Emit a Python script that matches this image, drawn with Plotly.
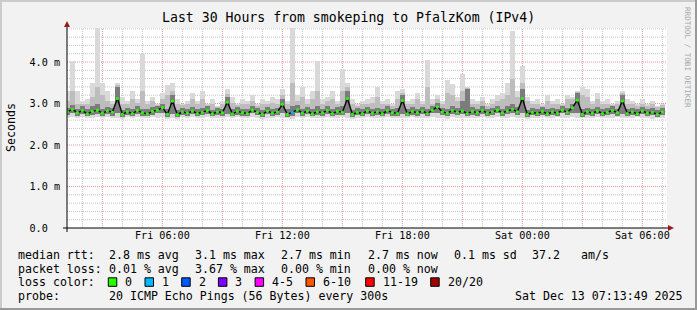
import plotly.graph_objects as go
import pandas as pd

# ---------------- data (milliseconds) ----------------
times = pd.date_range("2025-12-12 01:15", periods=120, freq="15min")

median = [2.80, 2.86, 2.78, 2.83, 2.75, 2.81, 2.84, 2.77, 2.82, 2.79,
          3.12,
          2.74, 2.80, 2.76, 2.83, 2.78, 2.75, 2.81, 2.84, 2.90, 2.74,
          3.06,
          2.73, 2.80, 2.77, 2.82, 2.76, 2.79, 2.83, 2.75, 2.80, 2.78,
          3.03,
          2.75, 2.81, 2.78, 2.76, 2.84, 2.79, 2.74, 2.82, 2.77, 2.80,
          2.98,
          2.74, 2.79, 2.85, 2.77, 2.82, 2.75, 2.80, 2.78, 2.83, 2.76, 2.81, 2.79,
          3.12,
          2.74, 2.79, 2.76, 2.82, 2.77, 2.80, 2.75, 2.83, 2.78, 2.76,
          3.07,
          2.75, 2.81, 2.78, 2.82, 2.76, 2.84,
          2.92, 2.80, 2.77, 2.83, 2.79, 2.82, 2.76, 2.81, 2.78, 2.83, 2.77, 2.80,
          2.84, 2.78, 2.82, 2.86, 2.80,
          3.12,
          2.73, 2.79, 2.76, 2.81, 2.75, 2.80, 2.77, 2.84, 2.79, 2.90,
          3.08,
          2.74, 2.80, 2.77, 2.82, 2.76, 2.79, 2.83, 2.78,
          3.06,
          2.76, 2.80, 2.75, 2.82, 2.77, 2.79, 2.74, 2.80]

loss = [0] * 45 + [1] + [0] * 74

smoke_min = [2.66, 2.68, 2.65, 2.67, 2.64, 2.66, 2.68, 2.65, 2.67, 2.66,
             2.65, 2.63, 2.67, 2.66, 2.68, 2.64, 2.66, 2.67, 2.65, 2.68,
             2.63, 2.66, 2.62, 2.67, 2.65, 2.68, 2.64, 2.66, 2.67, 2.65,
             2.66, 2.64, 2.67, 2.65, 2.68, 2.66, 2.64, 2.67, 2.65, 2.63,
             2.66, 2.65, 2.68, 2.66, 2.64, 2.62, 2.67, 2.65, 2.68, 2.64,
             2.66, 2.65, 2.67, 2.64, 2.66, 2.68, 2.65, 2.63, 2.66, 2.65,
             2.67, 2.64, 2.66, 2.65, 2.68, 2.66, 2.64, 2.66, 2.64, 2.67,
             2.65, 2.66, 2.64, 2.68, 2.66, 2.65, 2.63, 2.67, 2.65, 2.66,
             2.64, 2.66, 2.65, 2.67, 2.64, 2.66, 2.68, 2.65, 2.66, 2.67,
             2.65, 2.66, 2.63, 2.65, 2.64, 2.67, 2.65, 2.66, 2.68, 2.65,
             2.66, 2.67, 2.65, 2.64, 2.66, 2.65, 2.67, 2.64, 2.66, 2.65,
             2.67, 2.65, 2.66, 2.64, 2.67, 2.65, 2.66, 2.63, 2.65, 2.66]

smoke_lo = [2.72, 2.76, 2.71, 2.74, 2.69, 2.73, 2.75, 2.70, 2.74, 2.71,
            2.76,
            2.68, 2.72, 2.69, 2.75, 2.71, 2.69, 2.73, 2.76, 2.78, 2.68,
            2.74,
            2.67, 2.72, 2.70, 2.74, 2.70, 2.72, 2.75, 2.69, 2.73, 2.71,
            2.75,
            2.69, 2.73, 2.71, 2.70, 2.76, 2.72, 2.68, 2.74, 2.70, 2.73,
            2.76,
            2.68, 2.71, 2.76, 2.70, 2.74, 2.69, 2.73, 2.71, 2.75, 2.70, 2.73, 2.72,
            2.77,
            2.68, 2.72, 2.70, 2.74, 2.70, 2.73, 2.69, 2.75, 2.71, 2.70,
            2.75,
            2.69, 2.73, 2.71, 2.74, 2.70, 2.76,
            2.78, 2.73, 2.70, 2.75, 2.72, 2.74, 2.70, 2.73, 2.71, 2.75, 2.70, 2.73,
            2.76, 2.71, 2.74, 2.77, 2.73,
            2.77,
            2.67, 2.72, 2.70, 2.73, 2.69, 2.73, 2.70, 2.76, 2.72, 2.78,
            2.76,
            2.68, 2.73, 2.70, 2.74, 2.70, 2.72, 2.75, 2.71,
            2.75,
            2.70, 2.73, 2.69, 2.74, 2.71, 2.72, 2.68, 2.73]

dark_hi = [2.90, 2.96, 2.88, 2.93, 2.86, 2.95, 2.98, 2.88, 2.92, 2.89,
           3.40,
           2.85, 2.90, 2.87, 2.93, 2.88, 2.86, 2.91, 2.94, 3.00, 2.86,
           3.20,
           2.84, 2.90, 2.87, 2.92, 2.86, 2.89, 2.93, 2.85, 2.90, 2.88,
           3.15,
           2.86, 2.91, 2.88, 2.86, 2.94, 2.89, 2.85, 2.92, 2.87, 2.90,
           3.10,
           2.86, 2.95, 2.96, 2.88, 2.92, 2.87, 2.95, 2.88, 2.93, 2.87, 2.91, 2.95,
           3.30,
           2.85, 2.89, 2.86, 2.92, 2.87, 2.90, 2.86, 2.93, 2.88, 2.90,
           3.20,
           2.86, 2.91, 2.88, 2.92, 2.86, 2.94,
           3.02, 2.90, 2.88, 2.95, 2.89, 3.05, 3.35, 2.91, 2.88, 2.93, 2.87, 2.90,
           2.94, 2.88, 2.93, 2.98, 2.92,
           3.35,
           2.85, 2.89, 2.86, 2.91, 2.86, 2.90, 2.87, 2.94, 2.89, 3.00,
           3.25,
           2.86, 2.90, 2.87, 2.92, 2.86, 2.89, 2.93, 2.88,
           3.20,
           2.87, 2.90, 2.86, 2.92, 2.87, 2.89, 2.85, 2.90]

mid_hi = [3.05, 3.30, 3.00, 2.98, 3.00, 3.15, 3.40, 3.20, 3.05, 2.98,
          3.45,
          3.00, 2.98, 3.10, 3.02, 3.30, 2.98, 3.05, 2.96, 3.10, 3.20,
          3.30,
          3.00, 2.96, 2.98, 3.10, 2.98, 3.10, 2.96, 3.00, 2.92, 2.98,
          3.22,
          3.02, 2.96, 3.00, 2.98, 3.05, 2.95, 3.00, 2.98, 3.02, 3.00,
          3.20,
          2.98, 3.50, 3.05, 3.15, 3.00, 3.10, 3.30, 3.00, 3.05, 3.10, 2.98, 3.30,
          3.40,
          3.00, 2.95, 2.98, 3.00, 3.02, 3.15, 2.98, 3.00, 2.95, 3.10,
          3.25,
          2.98, 3.00, 3.10, 2.98, 3.40, 3.00,
          3.10, 2.98, 3.25, 3.20, 3.05, 3.30, 3.38, 3.00, 2.98, 3.05, 2.95, 3.00,
          3.05, 3.10, 3.20, 3.60, 3.15,
          3.50,
          3.05, 2.98, 3.00, 2.95, 3.05, 2.98, 3.00, 2.96, 3.10, 3.10,
          3.28,
          3.20, 3.15, 2.98, 3.10, 2.98, 3.00, 2.96, 2.98,
          3.25,
          3.00, 2.98, 2.95, 3.00, 2.95, 2.98, 2.92, 2.96]

smoke_max = [3.30, 4.03, 3.30, 3.05, 3.10, 3.50, 4.84, 3.50, 3.30, 3.05,
             3.50, 3.15, 3.05, 3.30, 3.10, 4.19, 3.05, 3.15, 3.00, 3.25,
             3.45, 3.50, 3.10, 3.00, 3.05, 3.25, 3.05, 3.30, 3.00, 3.10,
             2.95, 3.05, 3.35, 3.15, 3.00, 3.10, 3.05, 3.20, 3.00, 3.10,
             3.05, 3.15, 3.10, 3.36, 3.05, 4.84, 3.20, 3.40, 3.10, 3.30,
             4.03, 3.10, 3.15, 3.30, 3.05, 3.82, 3.50, 3.10, 3.00, 3.05,
             3.10, 3.15, 3.40, 3.05, 3.10, 3.00, 3.30, 3.35, 3.05, 3.10,
             3.25, 3.05, 4.04, 3.10, 3.20, 3.05, 3.56, 3.47, 3.15, 3.70,
             3.40, 3.10, 3.05, 3.15, 3.00, 3.10, 3.20, 3.25, 3.50, 4.75,
             3.30, 3.90, 3.15, 3.05, 3.10, 3.00, 3.20, 3.05, 3.10, 3.00,
             3.20, 3.15, 3.30, 3.40, 3.35, 3.05, 3.25, 3.05, 3.10, 3.00,
             3.05, 3.30, 3.10, 3.05, 3.00, 3.10, 3.00, 3.05, 2.95, 3.00]

loss_labels = ["0", "1", "2", "3", "4-5", "6-10", "11-19", "20/20"]
loss_colors = ["#26ff00", "#00b8ff", "#0059ff", "#7e00ff",
               "#ff00ff", "#ff5500", "#ff0000", "#a10000"]

y_tickvals = [0, 1, 2, 3, 4]
y_ticktext = ["0.0\u00a0\u00a0", "1.0 m", "2.0 m", "3.0 m", "4.0 m"]
x_tickvals = ["2025-12-12 06:00", "2025-12-12 12:00", "2025-12-12 18:00",
              "2025-12-13 00:00", "2025-12-13 06:00"]
x_ticktext = ["Fri 06:00", "Fri 12:00", "Fri 18:00", "Sat 00:00", "Sat 06:00"]

title_text = "Last 30 Hours from smokeping to PfalzKom (IPv4)"
legend_rows = [
    [("median rtt:", 16), ("2.8 ms avg", 107.3), ("3.1 ms max", 192.7),
     ("2.7 ms min", 279.3), ("2.7 ms now", 365.7), ("0.1 ms sd", 451.7),
     ("37.2", 530), ("am/s", 579.3)],
    [("packet loss:", 16), ("0.01 % avg", 107.3), ("3.67 % max", 193.3),
     ("0.00 % min", 279.3), ("0.00 % now", 365.7)],
    [("loss color:", 16)],
    [("probe:", 16), ("20 ICMP Echo Pings (56 Bytes) every 300s", 107.3),
     ("Sat Dec 13 07:13:49 2025", 513.3)],
]

# ---------------- layout geometry ----------------
W, H = 697, 310
L, R, T, B = 67, 30, 28, 82
PW, PH = W - L - R, H - T - B
MONO = "DejaVu Sans Mono"
X0, X1 = pd.Timestamp("2025-12-12 01:13:49"), pd.Timestamp("2025-12-13 07:13:49")
YMAX = 4.82


def px(x):
    return (x - L) / PW


def py(y):
    return (H - B - y) / PH


BARW = 15 * 60 * 1000

fig = go.Figure()


def band(lo, hi, color):
    fig.add_trace(go.Bar(
        x=times, y=[h - l for l, h in zip(lo, hi)], base=lo, width=BARW,
        marker=dict(color=color, line=dict(width=0)), hoverinfo="skip",
        showlegend=False))


band(smoke_min, smoke_max, "#d9d9d9")
band(smoke_lo, mid_hi, "#bdbdbd")
band(smoke_lo, dark_hi, "#7c7c7c")

fig.add_trace(go.Scatter(
    x=times, y=median, mode="lines+markers",
    line=dict(color="#0a0a0a", width=1.4),
    marker=dict(color=[loss_colors[v] for v in loss], size=3.2, line=dict(width=0)),
    showlegend=False))

shapes = []
MAJOR_C, MINOR_C = "#e49a9a", "#c4c4c4"
DASH = "1px,1px"

# vertical grid (hourly minor, 3-hourly major)
h = pd.Timestamp("2025-12-12 02:00")
while h < X1:
    major = h.hour % 3 == 0
    shapes.append(dict(type="line", xref="x", yref="paper", x0=h, x1=h, y0=0, y1=1,
                       layer="below",
                       line=dict(color=MAJOR_C if major else MINOR_C, width=1, dash=DASH)))
    h += pd.Timedelta(hours=1)
# horizontal grid (0.2 minor, 1.0 major)
k = 1
while k * 0.2 < YMAX:
    v = round(k * 0.2, 2)
    major = k % 5 == 0
    shapes.append(dict(type="line", xref="paper", yref="y", x0=0, x1=1, y0=v, y1=v,
                       layer="below",
                       line=dict(color=MAJOR_C if major else MINOR_C, width=1, dash=DASH)))
    k += 1

# axes
shapes.append(dict(type="line", xref="paper", yref="paper",
                   x0=px(63), x1=px(669), y0=py(228), y1=py(228),
                   line=dict(color="#000000", width=1), layer="above"))
shapes.append(dict(type="line", xref="paper", yref="paper",
                   x0=px(67), x1=px(67), y0=py(232), y1=py(24),
                   line=dict(color="#000000", width=1), layer="above"))
# arrows
shapes.append(dict(type="path", xref="paper", yref="paper", layer="above",
                   path=f"M {px(668)},{py(225)} L {px(674)},{py(228)} L {px(668)},{py(231)} Z",
                   fillcolor="#9b1b1b", line=dict(width=0)))
shapes.append(dict(type="path", xref="paper", yref="paper", layer="above",
                   path=f"M {px(64)},{py(27)} L {px(67)},{py(21)} L {px(70)},{py(27)} Z",
                   fillcolor="#9b1b1b", line=dict(width=0)))
# frame (3D shading)
shapes.append(dict(type="rect", xref="paper", yref="paper", x0=px(0), x1=px(2),
                   y0=py(310), y1=py(0), fillcolor="#cbcbcb", line=dict(width=0)))
shapes.append(dict(type="rect", xref="paper", yref="paper", x0=px(0), x1=px(697),
                   y0=py(2), y1=py(0), fillcolor="#cbcbcb", line=dict(width=0)))
shapes.append(dict(type="rect", xref="paper", yref="paper", x0=px(695), x1=px(697),
                   y0=py(310), y1=py(0), fillcolor="#999999", line=dict(width=0)))
shapes.append(dict(type="rect", xref="paper", yref="paper", x0=px(0), x1=px(697),
                   y0=py(310), y1=py(308), fillcolor="#999999", line=dict(width=0)))

annotations = []


def ann(x, y, text, size=11.6, color="#000000", xanchor="left", angle=0):
    annotations.append(dict(xref="paper", yref="paper", x=px(x), y=py(y),
                            text=text, showarrow=False, xanchor=xanchor,
                            yanchor="middle", textangle=angle,
                            font=dict(family=MONO, size=size, color=color)))


ann(348, 18, title_text, size=13.2, xanchor="center")
ann(11, 128, "Seconds", size=11.6, xanchor="center", angle=-90)
ann(688, 57, "RRDTOOL / TOBI OETIKER", size=7.6, color="#a8a8a8",
    xanchor="center", angle=90)

row_y = [255, 268.5, 282, 296]
for row, yy in zip(legend_rows, row_y):
    for text, xx in row:
        ann(xx, yy, text.replace(" ", "\u00a0"))

box_x = [108.3, 145.0, 181.7, 218.4, 255.1, 306.0, 365.7, 430.7]
for bx, lab, col in zip(box_x, loss_labels, loss_colors):
    shapes.append(dict(type="rect", xref="paper", yref="paper",
                       x0=px(bx), x1=px(bx + 8.5), y0=py(286.3), y1=py(277.8),
                       fillcolor=col, line=dict(color="#000000", width=1)))
    ann(bx + 15, 282, lab)

fig.update_layout(
    width=W, height=H,
    margin=dict(l=L, r=R, t=T, b=B, pad=0),
    paper_bgcolor="#f2f2f2", plot_bgcolor="#ffffff",
    barmode="overlay", bargap=0,
    showlegend=False,
    shapes=shapes, annotations=annotations,
    font=dict(family=MONO, size=10.15, color="#000000"),
    xaxis=dict(
        type="date", range=[X0, X1],
        tickmode="array", tickvals=x_tickvals, ticktext=x_ticktext,
        showgrid=False, showline=False, zeroline=False, ticks="",
        tickfont=dict(family=MONO, size=10.15, color="#000000"),
        fixedrange=True,
    ),
    yaxis=dict(
        range=[0, YMAX],
        tickmode="array", tickvals=y_tickvals, ticktext=y_ticktext,
        showgrid=False, showline=False, zeroline=False, ticks="",
        ticklabelstandoff=6,
        tickfont=dict(family=MONO, size=10.15, color="#000000"),
        fixedrange=True,
    ),
)

fig.write_html("out.html")
